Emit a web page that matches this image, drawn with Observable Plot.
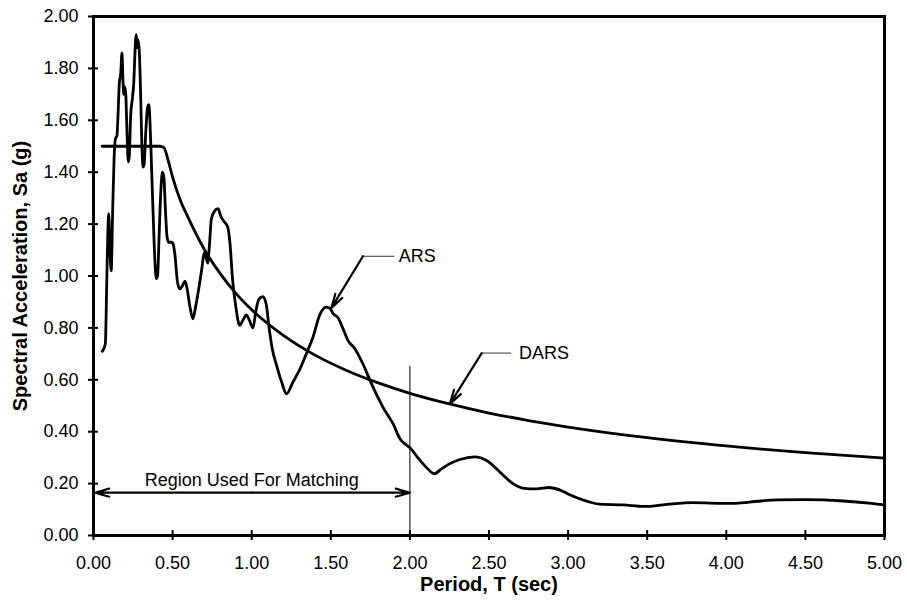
<!DOCTYPE html>
<html><head><meta charset="utf-8">
<script src="https://cdn.jsdelivr.net/npm/d3@7"></script>
<script src="https://cdn.jsdelivr.net/npm/@observablehq/plot@0.6"></script>
<style>body{margin:0;background:#fff}</style>
</head><body><div id="chart"></div>
<script>
// ARS (acceleration response spectrum)
const arsPeriod = [0.055,0.065,0.075,0.083,0.090,0.096,0.104,0.112,0.120,0.130,0.139,0.148,0.155,0.163,0.172,0.180,0.186,0.191,0.197,0.204,0.212,0.220,0.226,0.235,0.245,0.255,0.262,0.270,0.276,0.282,0.290,0.298,0.306,0.313,0.320,0.330,0.342,0.350,0.358,0.368,0.378,0.388,0.397,0.405,0.415,0.425,0.436,0.445,0.455,0.465,0.475,0.495,0.505,0.515,0.530,0.545,0.560,0.578,0.592,0.610,0.628,0.645,0.665,0.685,0.700,0.712,0.722,0.733,0.745,0.765,0.787,0.805,0.825,0.848,0.862,0.880,0.900,0.924,0.945,0.966,0.985,1.008,1.025,1.045,1.070,1.092,1.110,1.130,1.160,1.190,1.220,1.260,1.304,1.345,1.388,1.430,1.470,1.495,1.515,1.545,1.575,1.610,1.652,1.704,1.757,1.830,1.894,1.940,1.975,2.005,2.050,2.100,2.155,2.200,2.250,2.316,2.410,2.485,2.570,2.654,2.720,2.800,2.880,2.950,3.000,3.080,3.200,3.350,3.480,3.600,3.790,3.950,4.060,4.200,4.330,4.500,4.740,4.900,5.000];
const arsSa = [0.71,0.72,0.74,0.95,1.15,1.24,1.10,1.02,1.22,1.45,1.53,1.54,1.62,1.74,1.78,1.86,1.76,1.70,1.73,1.70,1.55,1.44,1.46,1.62,1.68,1.75,1.86,1.93,1.88,1.91,1.86,1.70,1.50,1.42,1.43,1.55,1.65,1.66,1.58,1.40,1.22,1.06,0.99,1.00,1.16,1.32,1.40,1.38,1.25,1.15,1.13,1.13,1.12,1.08,0.98,0.95,0.96,0.98,0.95,0.88,0.835,0.88,0.95,1.03,1.09,1.07,1.05,1.12,1.22,1.25,1.26,1.23,1.21,1.19,1.13,0.98,0.88,0.81,0.83,0.85,0.83,0.80,0.86,0.91,0.92,0.89,0.80,0.72,0.65,0.59,0.546,0.59,0.64,0.70,0.765,0.85,0.88,0.875,0.855,0.84,0.80,0.75,0.72,0.66,0.585,0.494,0.43,0.37,0.35,0.335,0.30,0.265,0.238,0.257,0.276,0.293,0.303,0.289,0.244,0.199,0.182,0.180,0.185,0.175,0.160,0.140,0.121,0.118,0.112,0.118,0.127,0.124,0.124,0.132,0.137,0.138,0.133,0.125,0.118];

// DARS (design acceleration response spectrum)
const darsPeriod = [0.055,0.200,0.420,0.445,0.470,0.500,0.550,0.600,0.700,0.800,0.900,1.000,1.200,1.400,1.600,1.800,2.000,2.250,2.500,2.750,3.000,3.500,4.000,4.500,5.000];
const darsSa = [1.500,1.500,1.500,1.495,1.450,1.381,1.290,1.223,1.103,1.010,0.933,0.870,0.771,0.695,0.636,0.588,0.548,0.507,0.472,0.443,0.418,0.377,0.345,0.319,0.298];

const xTicks = [0,0.5,1,1.5,2,2.5,3,3.5,4,4.5,5];
const yTicks = [0,0.2,0.4,0.6,0.8,1.0,1.2,1.4,1.6,1.8,2.0];

// annotations (data coordinates)
const arsLabel = {text: "ARS", tip: [1.504, 0.877], elbow: [1.703, 1.076], end: 1.905, textX: 1.93};
const darsLabel = {text: "DARS", tip: [2.253, 0.507], elbow: [2.454, 0.703], end: 2.644, textX: 2.69};
const regionLabel = {text: "Region Used For Matching", from: 0.01, to: 2.0, level: 0.165, textX: 1.0, textY: 0.212};
const matchLimit = {x: 2.0, top: 0.652};

const ars = arsPeriod.map((t, i) => ({t, sa: arsSa[i]}));
const dars = darsPeriod.map((t, i) => ({t, sa: darsSa[i]}));
const mid = (regionLabel.from + regionLabel.to) / 2;
const arrowStyle = {stroke: "#000", strokeWidth: 2.2, headLength: 10, headAngle: 32};

const chart = Plot.plot({
  width: 907, height: 606,
  marginLeft: 93, marginRight: 23, marginTop: 16, marginBottom: 71,
  x: {domain: [0, 5], label: null},
  y: {domain: [0, 2], label: null},
  style: {fontFamily: "'Liberation Sans', Arial, sans-serif", fontSize: "18px", color: "#000", background: "#fff"},
  marks: [
    // tick marks crossing the axes
    Plot.axisX({ticks: xTicks, tickSize: 10, dy: -5, tickFormat: () => "", label: null, strokeWidth: 2}),
    Plot.axisY({ticks: yTicks, tickSize: 10, dx: 5, tickFormat: () => "", label: null, strokeWidth: 2}),
    Plot.axisX({ticks: xTicks, tickSize: 0, tickPadding: 21, tickFormat: d3.format(".2f"), label: null}),
    Plot.axisY({ticks: yTicks, tickSize: 0, tickPadding: 15, tickFormat: d3.format(".2f"), label: null}),
    Plot.text(["Period, T (sec)"], {frameAnchor: "bottom", dy: 55, fontWeight: "bold", fontSize: 20, textAnchor: "middle"}),
    Plot.text(["Spectral Acceleration, Sa (g)"], {frameAnchor: "left", dx: -73, rotate: -90, fontWeight: "bold", fontSize: 20, textAnchor: "middle"}),
    // matching limit
    Plot.ruleX([matchLimit], {x: "x", y1: 0, y2: "top", stroke: "#000", strokeWidth: 1}),
    // curves
    Plot.line(dars, {x: "t", y: "sa", stroke: "#000", strokeWidth: 2.8, curve: "monotone-x"}),
    Plot.line(ars, {x: "t", y: "sa", stroke: "#000", strokeWidth: 2.8, curve: "monotone-x", strokeLinejoin: "round"}),
    // ARS annotation
    Plot.ruleY([arsLabel], {y: d => d.elbow[1], x1: d => d.elbow[0], x2: "end", stroke: "#333", strokeWidth: 1}),
    Plot.arrow([arsLabel], {x1: d => d.elbow[0], y1: d => d.elbow[1], x2: d => d.tip[0], y2: d => d.tip[1], ...arrowStyle}),
    Plot.text([arsLabel], {x: "textX", y: d => d.elbow[1], text: "text", textAnchor: "start", fontSize: 18}),
    // DARS annotation
    Plot.ruleY([darsLabel], {y: d => d.elbow[1], x1: d => d.elbow[0], x2: "end", stroke: "#333", strokeWidth: 1}),
    Plot.arrow([darsLabel], {x1: d => d.elbow[0], y1: d => d.elbow[1], x2: d => d.tip[0], y2: d => d.tip[1], ...arrowStyle}),
    Plot.text([darsLabel], {x: "textX", y: d => d.elbow[1], text: "text", textAnchor: "start", fontSize: 18}),
    // region used for matching
    Plot.arrow([regionLabel], {x1: mid, y1: "level", x2: "from", y2: "level", ...arrowStyle}),
    Plot.arrow([regionLabel], {x1: mid, y1: "level", x2: "to", y2: "level", ...arrowStyle}),
    Plot.text([regionLabel], {x: "textX", y: "textY", text: "text", fontSize: 18}),
    Plot.frame({stroke: "#000", strokeWidth: 3})
  ]
});
document.getElementById("chart").appendChild(chart);
</script>
</body></html>
